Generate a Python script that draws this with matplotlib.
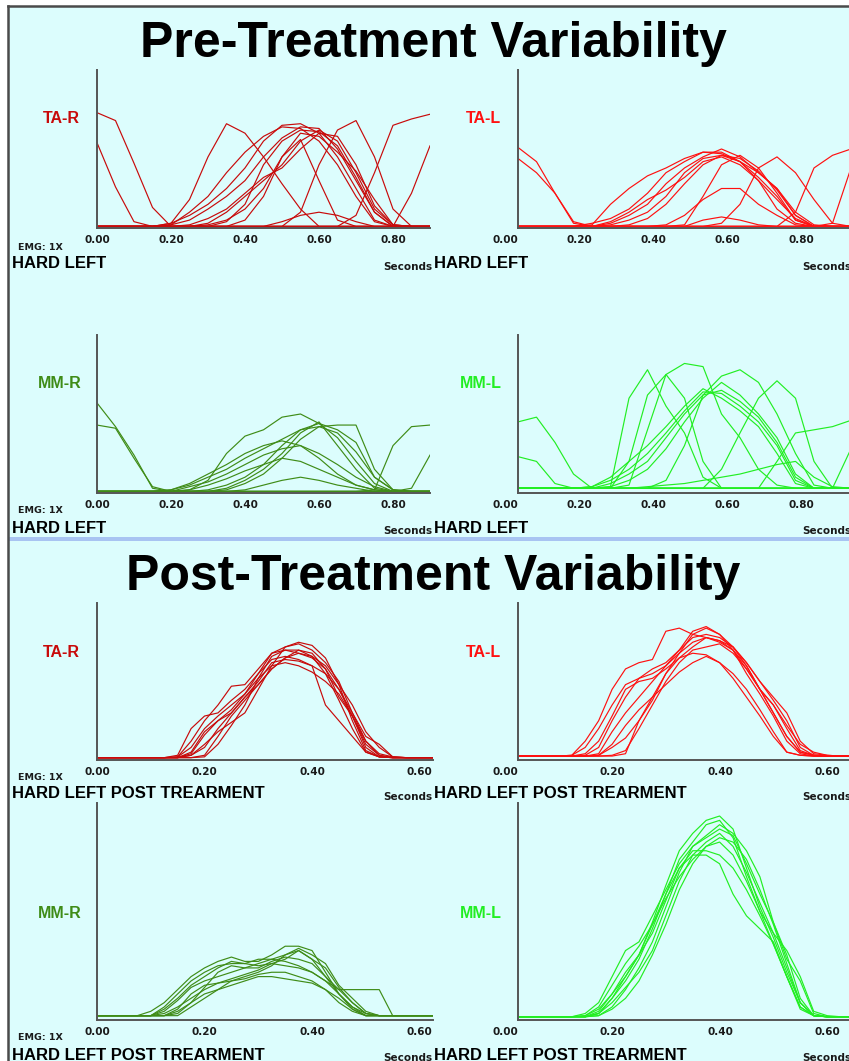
import matplotlib.pyplot as plt
from matplotlib.patches import Rectangle
from matplotlib.lines import Line2D

W, H = 849, 1061

# time grids (seconds)
pre_t = [0.00, 0.05, 0.10, 0.15, 0.20, 0.25, 0.30, 0.35, 0.40, 0.45,
         0.50, 0.55, 0.60, 0.65, 0.70, 0.75, 0.80, 0.85, 0.90]
post_t = [0.000, 0.025, 0.050, 0.075, 0.100, 0.125, 0.150, 0.175, 0.200,
          0.225, 0.250, 0.275, 0.300, 0.325, 0.350, 0.375, 0.400, 0.425,
          0.450, 0.475, 0.500, 0.525, 0.550, 0.575, 0.600, 0.625]

pre_ticks = [0.0, 0.2, 0.4, 0.6, 0.8]
post_ticks = [0.0, 0.2, 0.4, 0.6]

# EMG envelopes, % of panel height
pre_ta_r = [
    [73, 68, 41, 13, 1, 1, 1, 1, 1, 1, 1, 1, 1, 1, 1, 1, 1, 1, 1],
    [54, 26, 4, 1, 1, 1, 1, 1, 1, 1, 1, 1, 1, 1, 1, 1, 1, 1, 1],
    [1, 1, 1, 1, 3, 18, 45, 66, 60, 45, 28, 12, 1, 1, 1, 1, 1, 1, 1],
    [1, 1, 1, 1, 3, 8, 15, 25, 38, 55, 65, 66, 60, 45, 25, 5, 1, 1, 1],
    [1, 1, 1, 1, 2, 5, 12, 20, 30, 45, 57, 64, 63, 50, 30, 10, 1, 1, 1],
    [1, 1, 1, 1, 1, 1, 3, 10, 20, 30, 40, 55, 62, 55, 35, 12, 2, 1, 1],
    [1, 1, 1, 1, 1, 2, 6, 12, 22, 32, 38, 50, 60, 58, 40, 14, 2, 1, 1],
    [1, 1, 1, 1, 1, 1, 2, 5, 12, 25, 45, 60, 58, 48, 36, 18, 2, 1, 1],
    [1, 1, 1, 1, 2, 10, 20, 35, 48, 58, 64, 63, 55, 40, 20, 4, 1, 1, 1],
    [1, 1, 1, 1, 1, 1, 1, 4, 15, 40, 55, 62, 61, 52, 32, 10, 1, 1, 1],
    [1, 1, 1, 1, 1, 1, 1, 1, 1, 1, 1, 10, 40, 62, 68, 45, 12, 1, 1],
    [1, 1, 1, 1, 1, 1, 1, 1, 1, 1, 1, 1, 1, 1, 8, 35, 65, 69, 72],
    [1, 1, 1, 1, 1, 1, 1, 1, 1, 1, 1, 1, 1, 1, 1, 1, 1, 22, 52],
    [1, 1, 1, 1, 1, 1, 1, 1, 1, 1, 4, 8, 10, 8, 4, 1, 1, 1, 1],
    [1, 1, 1, 1, 1, 1, 1, 1, 5, 20, 45, 56, 30, 5, 1, 1, 1, 1, 1],
]
pre_ta_l = [
    [51, 42, 22, 4, 1, 1, 1, 1, 1, 1, 1, 1, 1, 1, 1, 1, 1, 1, 1],
    [44, 35, 22, 3, 1, 1, 1, 1, 1, 1, 1, 1, 1, 1, 1, 1, 1, 1, 1],
    [1, 1, 1, 1, 2, 15, 25, 33, 38, 44, 48, 48, 42, 30, 12, 3, 1, 1, 1],
    [1, 1, 1, 1, 3, 6, 12, 22, 35, 42, 48, 47, 42, 35, 25, 8, 1, 1, 1],
    [1, 1, 1, 1, 1, 3, 8, 15, 28, 38, 45, 50, 45, 35, 25, 10, 2, 1, 1],
    [1, 1, 1, 1, 1, 2, 5, 10, 20, 35, 44, 46, 42, 32, 20, 5, 1, 1, 1],
    [1, 1, 1, 1, 1, 1, 2, 6, 15, 28, 40, 46, 44, 36, 24, 8, 1, 1, 1],
    [1, 1, 1, 1, 1, 4, 10, 18, 24, 32, 42, 45, 40, 30, 18, 6, 1, 1, 1],
    [1, 1, 1, 1, 1, 1, 1, 1, 1, 1, 1, 3, 15, 38, 45, 35, 18, 3, 1],
    [1, 1, 1, 1, 1, 1, 1, 1, 1, 1, 1, 1, 1, 1, 1, 10, 38, 46, 50],
    [1, 1, 1, 1, 1, 1, 1, 1, 1, 1, 5, 7, 5, 2, 1, 1, 1, 1, 1],
    [1, 1, 1, 1, 1, 1, 1, 1, 2, 8, 18, 25, 25, 15, 8, 2, 1, 1, 1],
    [1, 1, 1, 1, 1, 1, 1, 1, 1, 2, 20, 40, 46, 38, 22, 5, 1, 1, 1],
    [1, 1, 1, 1, 1, 1, 1, 1, 1, 1, 1, 1, 1, 1, 1, 1, 1, 3, 38],
]
pre_mm_r = [
    [57, 42, 24, 3, 1, 1, 1, 1, 1, 1, 1, 1, 1, 1, 1, 1, 1, 1, 1],
    [43, 41, 22, 4, 1, 1, 1, 1, 1, 1, 1, 1, 1, 1, 1, 1, 1, 1, 1],
    [1, 1, 1, 1, 1, 2, 8, 25, 36, 40, 48, 50, 44, 40, 32, 10, 2, 1, 1],
    [1, 1, 1, 1, 2, 5, 10, 15, 22, 28, 34, 40, 42, 38, 26, 10, 2, 1, 1],
    [1, 1, 1, 1, 1, 4, 7, 12, 18, 24, 28, 30, 25, 18, 10, 4, 1, 1, 1],
    [1, 1, 1, 1, 1, 2, 5, 9, 14, 18, 22, 20, 15, 10, 5, 2, 1, 1, 1],
    [1, 1, 1, 1, 1, 1, 2, 5, 10, 18, 30, 40, 44, 35, 20, 6, 1, 1, 1],
    [1, 1, 1, 1, 1, 1, 1, 2, 6, 12, 22, 34, 42, 43, 43, 15, 2, 1, 1],
    [1, 1, 1, 1, 2, 6, 12, 18, 25, 30, 33, 30, 22, 12, 5, 2, 1, 1, 1],
    [1, 1, 1, 1, 1, 1, 1, 1, 1, 1, 1, 1, 1, 1, 1, 2, 30, 42, 43],
    [1, 1, 1, 1, 1, 1, 1, 1, 1, 1, 1, 1, 1, 1, 1, 1, 1, 3, 24],
    [1, 1, 1, 1, 1, 1, 1, 1, 2, 5, 8, 10, 8, 5, 3, 1, 1, 1, 1],
    [1, 1, 1, 1, 1, 1, 1, 3, 8, 15, 25, 38, 45, 30, 15, 3, 1, 1, 1],
]
pre_mm_l = [
    [45, 48, 32, 12, 3, 3, 3, 3, 3, 3, 3, 3, 3, 3, 3, 3, 3, 3, 3],
    [23, 20, 6, 3, 3, 3, 3, 3, 3, 3, 3, 3, 3, 3, 3, 3, 3, 3, 3],
    [3, 3, 3, 3, 3, 4, 60, 78, 55, 38, 10, 3, 3, 3, 3, 3, 3, 3, 3],
    [3, 3, 3, 3, 3, 3, 5, 40, 75, 82, 80, 50, 35, 15, 5, 3, 3, 3, 3],
    [3, 3, 3, 3, 3, 3, 3, 3, 8, 30, 62, 74, 78, 70, 50, 25, 5, 3, 3],
    [3, 3, 3, 3, 3, 3, 3, 3, 3, 3, 3, 15, 38, 60, 71, 60, 20, 3, 3],
    [3, 3, 3, 3, 4, 8, 15, 25, 38, 52, 64, 63, 55, 45, 30, 8, 3, 3, 3],
    [3, 3, 3, 3, 3, 6, 12, 20, 35, 50, 62, 65, 58, 48, 32, 10, 3, 3, 3],
    [3, 3, 3, 3, 4, 10, 20, 30, 42, 55, 66, 60, 52, 42, 25, 6, 3, 3, 3],
    [3, 3, 3, 3, 3, 4, 8, 15, 28, 45, 60, 70, 62, 50, 35, 12, 3, 3, 3],
    [3, 3, 3, 3, 3, 3, 3, 3, 3, 3, 3, 3, 3, 3, 20, 38, 40, 42, 46],
    [3, 3, 3, 3, 3, 3, 3, 4, 5, 6, 8, 10, 12, 15, 18, 20, 10, 4, 3],
    [3, 3, 3, 3, 3, 3, 20, 62, 75, 60, 20, 3, 3, 3, 3, 3, 3, 3, 3],
    [3, 3, 3, 3, 3, 3, 3, 3, 3, 3, 3, 3, 3, 3, 3, 3, 3, 3, 28],
]

post_ta_r = [
    [1.5, 1.5, 1.5, 1.5, 1.5, 1.5, 2, 12, 25, 35, 47, 48, 58, 68, 72, 75, 73, 65, 48, 25, 6, 2, 1.5, 1.5, 1.5, 1.5],
    [1.5, 1.5, 1.5, 1.5, 1.5, 1.5, 3, 20, 28, 30, 38, 45, 55, 68, 70, 68, 65, 58, 40, 28, 10, 3, 1.5, 1.5, 1.5, 1.5],
    [1.5, 1.5, 1.5, 1.5, 1.5, 1.5, 1.5, 5, 18, 25, 30, 40, 50, 62, 64, 63, 60, 55, 45, 30, 12, 3, 1.5, 1.5, 1.5, 1.5],
    [1.5, 1.5, 1.5, 1.5, 1.5, 1.5, 1.5, 1.5, 3, 15, 28, 38, 48, 58, 65, 68, 66, 60, 48, 35, 18, 8, 2, 1.5, 1.5, 1.5],
    [1.5, 1.5, 1.5, 1.5, 1.5, 1.5, 2, 8, 20, 28, 35, 42, 52, 60, 72, 74, 70, 62, 50, 30, 15, 10, 2, 1.5, 1.5, 1.5],
    [1.5, 1.5, 1.5, 1.5, 1.5, 1.5, 1.5, 3, 10, 18, 24, 30, 45, 60, 62, 60, 56, 50, 42, 28, 8, 2, 1.5, 1.5, 1.5, 1.5],
    [1.5, 1.5, 1.5, 1.5, 1.5, 1.5, 1.5, 4, 16, 25, 32, 42, 55, 64, 66, 64, 60, 35, 25, 15, 5, 2, 1.5, 1.5, 1.5, 1.5],
    [1.5, 1.5, 1.5, 1.5, 1.5, 1.5, 1.5, 3, 8, 20, 30, 40, 48, 58, 65, 70, 68, 58, 45, 28, 12, 4, 2, 1.5, 1.5, 1.5],
    [1.5, 1.5, 1.5, 1.5, 1.5, 1.5, 1.5, 1.5, 2, 10, 22, 35, 52, 66, 70, 70, 66, 55, 38, 20, 5, 2, 1.5, 1.5, 1.5, 1.5],
]
post_ta_l = [
    [2.5, 2.5, 2.5, 2.5, 3, 12, 25, 45, 58, 62, 64, 82, 84, 80, 78, 75, 70, 60, 45, 30, 15, 5, 3, 2.5, 2.5, 2.5],
    [2.5, 2.5, 2.5, 2.5, 3, 8, 20, 35, 48, 52, 55, 60, 68, 80, 84, 80, 72, 62, 50, 38, 25, 8, 3, 2.5, 2.5, 2.5],
    [2.5, 2.5, 2.5, 2.5, 2.5, 4, 12, 28, 45, 50, 52, 58, 65, 72, 78, 76, 70, 58, 45, 30, 15, 5, 3, 2.5, 2.5, 2.5],
    [2.5, 2.5, 2.5, 2.5, 2.5, 2.5, 4, 18, 30, 40, 50, 60, 70, 82, 85, 80, 70, 55, 42, 28, 12, 4, 2.5, 2.5, 2.5, 2.5],
    [2.5, 2.5, 2.5, 2.5, 2.5, 2.5, 3, 8, 14, 25, 38, 55, 68, 75, 78, 76, 72, 62, 50, 40, 30, 12, 4, 3, 2.5, 2.5],
    [2.5, 2.5, 2.5, 2.5, 2.5, 2.5, 2.5, 3, 6, 20, 35, 50, 62, 70, 72, 74, 68, 58, 45, 35, 20, 6, 3, 2.5, 2.5, 2.5],
    [2.5, 2.5, 2.5, 2.5, 2.5, 2.5, 2.5, 2.5, 4, 25, 40, 55, 65, 68, 67, 62, 55, 45, 32, 18, 5, 3, 2.5, 2.5, 2.5, 2.5],
    [2.5, 2.5, 2.5, 2.5, 2.5, 2.5, 3, 10, 22, 32, 40, 48, 56, 62, 66, 62, 52, 40, 28, 15, 5, 3, 2.5, 2.5, 2.5, 2.5],
    [2.5, 2.5, 2.5, 2.5, 2.5, 3, 8, 25, 40, 52, 58, 62, 70, 78, 80, 78, 72, 60, 45, 35, 22, 10, 5, 3, 2.5, 2.5],
]
post_mm_r = [
    [2, 2, 2, 2, 4, 8, 14, 20, 24, 27, 29, 27, 27, 30, 34, 34, 32, 22, 12, 5, 2, 2, 2, 2, 2, 2],
    [2, 2, 2, 2, 2, 6, 12, 18, 22, 25, 26, 26, 28, 28, 30, 32, 28, 24, 15, 8, 3, 2, 2, 2, 2, 2],
    [2, 2, 2, 2, 2, 4, 9, 15, 18, 20, 22, 24, 26, 28, 27, 25, 22, 18, 14, 14, 14, 14, 2, 2, 2, 2],
    [2, 2, 2, 2, 2, 2, 5, 12, 16, 17, 18, 19, 21, 22, 22, 20, 18, 14, 8, 4, 2, 2, 2, 2, 2, 2],
    [2, 2, 2, 2, 2, 5, 10, 16, 20, 24, 27, 26, 25, 26, 28, 32, 28, 20, 12, 6, 2, 2, 2, 2, 2, 2],
    [2, 2, 2, 2, 2, 3, 6, 10, 14, 17, 19, 21, 23, 26, 25, 24, 22, 18, 12, 6, 3, 2, 2, 2, 2, 2],
    [2, 2, 2, 2, 2, 2, 2, 6, 10, 14, 18, 20, 22, 25, 30, 33, 30, 26, 16, 10, 4, 2, 2, 2, 2, 2],
    [2, 2, 2, 2, 2, 2, 4, 8, 12, 14, 16, 18, 20, 20, 19, 18, 17, 14, 10, 5, 2, 2, 2, 2, 2, 2],
    [2, 2, 2, 2, 2, 2, 3, 8, 15, 22, 25, 24, 24, 27, 29, 28, 26, 20, 14, 8, 3, 2, 2, 2, 2, 2],
]
post_mm_l = [
    [1.5, 1.5, 1.5, 1.5, 1.5, 2, 5, 12, 20, 30, 45, 62, 78, 86, 92, 94, 88, 70, 52, 38, 22, 8, 2, 1.5, 1.5, 1.5],
    [1.5, 1.5, 1.5, 1.5, 1.5, 1.5, 3, 10, 18, 28, 42, 58, 74, 82, 90, 92, 84, 66, 50, 35, 20, 6, 2, 1.5, 1.5, 1.5],
    [1.5, 1.5, 1.5, 1.5, 1.5, 3, 8, 20, 32, 36, 48, 60, 72, 80, 84, 88, 85, 72, 58, 45, 28, 18, 3, 1.5, 1.5, 1.5],
    [1.5, 1.5, 1.5, 1.5, 1.5, 1.5, 4, 12, 22, 30, 40, 55, 70, 78, 78, 76, 70, 60, 48, 35, 20, 6, 2, 1.5, 1.5, 1.5],
    [1.5, 1.5, 1.5, 1.5, 1.5, 1.5, 2, 6, 14, 24, 36, 52, 68, 80, 85, 90, 86, 78, 66, 45, 30, 10, 2, 1.5, 1.5, 1.5],
    [1.5, 1.5, 1.5, 1.5, 1.5, 2, 6, 16, 26, 34, 44, 56, 66, 74, 80, 82, 76, 64, 50, 40, 32, 20, 4, 2, 1.5, 1.5],
    [1.5, 1.5, 1.5, 1.5, 1.5, 1.5, 3, 8, 15, 22, 32, 48, 64, 76, 82, 86, 80, 68, 54, 40, 24, 8, 2, 1.5, 1.5, 1.5],
    [1.5, 1.5, 1.5, 1.5, 1.5, 1.5, 2, 5, 10, 18, 30, 44, 60, 72, 80, 84, 82, 74, 60, 44, 26, 8, 2, 1.5, 1.5, 1.5],
    [1.5, 1.5, 1.5, 1.5, 1.5, 1.5, 3, 10, 20, 30, 44, 58, 70, 76, 76, 72, 58, 48, 42, 36, 20, 5, 2, 1.5, 1.5, 1.5],
]

dark_red = "#c80a0a"
red = "#ff1010"
dark_green = "#3f8c17"
green = "#22ee22"

fig = plt.figure(figsize=(W / 100, H / 100), dpi=100)
fig.patch.set_facecolor("white")

# cyan panel, dark frame on top/left, light blue separator band
fig.add_artist(Rectangle((8 / W, 0), 1, 1 - 6 / H, transform=fig.transFigure,
                         facecolor="#dcfdfd", edgecolor="none", zorder=0))
fig.add_artist(Line2D([8 / W, 1], [1 - 6 / H, 1 - 6 / H], transform=fig.transFigure,
                      color="#4a4a4a", lw=1.8, zorder=0.6))
fig.add_artist(Line2D([8 / W, 8 / W], [0, 1 - 6 / H], transform=fig.transFigure,
                      color="#4a4a4a", lw=1.8, zorder=0.6))
fig.add_artist(Rectangle((9 / W, 1 - 541 / H), 1, 4 / H, transform=fig.transFigure,
                         facecolor="#a8c4f2", edgecolor="none", zorder=0.5))


def ftext(x, y, s, **kw):
    fig.text(x / W, 1 - y / H, s, **kw)


def panel(left, top, width, height, t, traces, xmax, ticks, color, right_side):
    ax = fig.add_axes([left / W, 1 - (top + height) / H, width / W, height / H])
    ax.patch.set_visible(False)
    for tr in traces:
        ax.plot(t, tr, color=color, lw=0.85)
    ax.set_xlim(0, xmax)
    ax.set_ylim(0, 100)
    ax.set_yticks([])
    ax.set_xticks(ticks, ["%.2f" % v for v in ticks])
    ax.tick_params(axis="x", length=0, pad=5, labelsize=7.5, labelcolor="#1a1a1a")
    for lbl in ax.get_xticklabels():
        lbl.set_fontweight("bold")
        lbl.set_family("DejaVu Sans")
        if right_side:
            lbl.set_horizontalalignment("right")
    for s in ["top", "right"]:
        ax.spines[s].set_visible(False)
    for s in ["left", "bottom"]:
        ax.spines[s].set_color("#555555")
        ax.spines[s].set_linewidth(1.4)
    return ax


# pre-treatment
panel(97, 70, 333, 158, pre_t, pre_ta_r, 0.9, pre_ticks, dark_red, False)
panel(518, 70, 333, 158, pre_t, pre_ta_l, 0.9, pre_ticks, red, True)
panel(97, 335, 333, 158, pre_t, pre_mm_r, 0.9, pre_ticks, dark_green, False)
panel(518, 335, 333, 158, pre_t, pre_mm_l, 0.9, pre_ticks, green, True)
# post-treatment
panel(97, 603, 336, 157, post_t, post_ta_r, 0.625, post_ticks, dark_red, False)
panel(518, 603, 336, 157, post_t, post_ta_l, 0.625, post_ticks, red, True)
panel(97, 803, 336, 217, post_t, post_mm_r, 0.625, post_ticks, dark_green, False)
panel(518, 803, 336, 217, post_t, post_mm_l, 0.625, post_ticks, green, True)

title_kw = dict(ha="center", va="baseline", fontsize=36, fontweight="bold",
                family="Liberation Sans", color="black")
ftext(433, 57, "Pre-Treatment Variability", **title_kw)
ftext(433, 590, "Post-Treatment Variability", **title_kw)

lab_kw = dict(ha="right", va="baseline", fontsize=11.5, fontweight="bold",
              family="Liberation Sans")
ftext(80, 123, "TA-R", color=dark_red, **lab_kw)
ftext(501, 123, "TA-L", color=red, **lab_kw)
ftext(82, 388, "MM-R", color=dark_green, **lab_kw)
ftext(502, 388, "MM-L", color=green, **lab_kw)
ftext(80, 657, "TA-R", color=dark_red, **lab_kw)
ftext(501, 657, "TA-L", color=red, **lab_kw)
ftext(82, 918, "MM-R", color=dark_green, **lab_kw)
ftext(502, 918, "MM-L", color=green, **lab_kw)

emg_kw = dict(ha="left", va="baseline", fontsize=6.8, fontweight="bold",
              family="DejaVu Sans", color="#1a1a1a")
hard_kw = dict(ha="left", va="baseline", fontsize=12, fontweight="bold",
               family="Liberation Sans", color="black")
sec_kw = dict(va="baseline", fontsize=7.5, fontweight="bold",
              family="DejaVu Sans", color="#1a1a1a")

rows = [(250, 268, 270, "HARD LEFT"),
        (513, 533, 534, "HARD LEFT"),
        (780, 798, 800, "HARD LEFT POST TREARMENT"),
        (1040, 1060, 1061, "HARD LEFT POST TREARMENT")]
for y_emg, y_hard, y_sec, name in rows:
    ftext(18, y_emg, "EMG: 1X", **emg_kw)
    ftext(12, y_hard, name, **hard_kw)
    ftext(434, y_hard, name, **hard_kw)
    ftext(432, y_sec, "Seconds", ha="right", **sec_kw)
    ftext(802, y_sec, "Seconds", ha="left", **sec_kw)

fig.savefig("out.png", dpi=100)
